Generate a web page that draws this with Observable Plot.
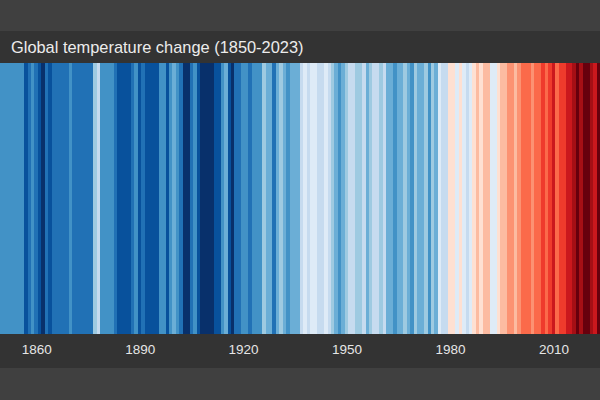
<!DOCTYPE html>
<html>
<head>
<meta charset="utf-8">
<script src="https://cdn.jsdelivr.net/npm/d3@7"></script>
<script src="https://cdn.jsdelivr.net/npm/@observablehq/plot@0.6"></script>
<style>
  html, body { margin: 0; padding: 0; background: #404040; }
  body { width: 600px; height: 400px; overflow: hidden; font-family: "Liberation Sans", Arial, Helvetica, sans-serif; }
  #top { height: 31px; }
  #title { height: 32px; line-height: 33px; background: #333333; color: #ececec; font-size: 16.4px; padding-left: 11px; white-space: nowrap; }
  #chart svg { display: block; }
</style>
</head>
<body>
<div id="top"></div>
<div id="title"></div>
<div id="chart"></div>
<script>
const titleText = "Global temperature change (1850-2023)";
const startYear = 1850;

// Annual global temperature anomaly (°C), estimated from stripe colours
const anom1850_1899 = [
  -0.31, -0.23, -0.23, -0.27, -0.29, -0.30, -0.31, -0.47, -0.39, -0.28,
  -0.39, -0.43, -0.54, -0.35, -0.47, -0.33, -0.34, -0.36, -0.35, -0.33,
  -0.31, -0.38, -0.33, -0.33, -0.40, -0.41, -0.41, -0.10, 0.00, -0.30,
  -0.31, -0.23, -0.29, -0.35, -0.49, -0.47, -0.43, -0.50, -0.38, -0.25,
  -0.51, -0.40, -0.51, -0.49, -0.48, -0.44, -0.28, -0.27, -0.45, -0.31
];
const anom1900_1949 = [
  -0.21, -0.30, -0.41, -0.54, -0.59, -0.41, -0.31, -0.51, -0.58, -0.57,
  -0.55, -0.57, -0.47, -0.47, -0.27, -0.19, -0.43, -0.54, -0.39, -0.34,
  -0.30, -0.23, -0.33, -0.31, -0.30, -0.23, -0.11, -0.21, -0.21, -0.37,
  -0.17, -0.11, -0.16, -0.30, -0.15, -0.18, -0.14, 0.00, 0.10, 0.02,
  0.13, 0.16, 0.03, 0.04, 0.16, 0.03, -0.06, -0.14, -0.25, -0.16
];
const anom1950_1999 = [
  -0.10, 0.00, 0.01, -0.05, -0.07, 0.01, -0.18, -0.04, 0.05, 0.04,
  -0.05, 0.04, -0.13, -0.14, -0.25, -0.15, -0.14, -0.06, -0.15, -0.23,
  -0.08, -0.16, -0.13, -0.04, -0.24, -0.07, -0.17, 0.11, 0.03, 0.06,
  0.19, 0.24, 0.09, 0.26, 0.09, 0.07, 0.12, 0.26, 0.31, 0.20,
  0.35, 0.32, 0.15, 0.17, 0.24, 0.37, 0.29, 0.45, 0.47, 0.37
];
const anom2000_2023 = [
  0.40, 0.53, 0.57, 0.57, 0.47, 0.57, 0.56, 0.65, 0.55, 0.65,
  0.72, 0.57, 0.62, 0.67, 0.72, 0.77, 0.87, 0.92, 0.83, 0.94,
  0.96, 0.83, 0.76, 1.10
];

const tickYears = [1860, 1890, 1920, 1950, 1980, 2010];

// Stripe palette and colour-class boundaries (°C)
const stripeColors = ["#08306b", "#08519c", "#2171b5", "#4292c6", "#6baed6", "#9ecae1", "#c6dbef", "#deebf7",
                      "#fee0d2", "#fcbba1", "#fc9272", "#fb6a4a", "#ef3b2c", "#cb181d", "#a50f15", "#67000d"];
const colorBreaks = [-0.52, -0.42, -0.32, -0.22, -0.12, -0.02, 0.08, 0.18, 0.28, 0.38, 0.48, 0.58, 0.68, 0.78, 0.88];

const anomalies = [...anom1850_1899, ...anom1900_1949, ...anom1950_1999, ...anom2000_2023];
const data = anomalies.map((v, i) => ({year: startYear + i, anomaly: v}));
const years = data.map(d => d.year);

document.getElementById("title").textContent = titleText;

const chart = Plot.plot({
  width: 600,
  height: 305,
  marginTop: 0,
  marginLeft: 0,
  marginRight: 0,
  marginBottom: 34,
  style: {background: "#333333", color: "#e6e6e6", fontFamily: "'Liberation Sans', Arial, Helvetica, sans-serif", fontSize: "13.5px"},
  x: {type: "band", domain: years, padding: 0, round: false, label: null},
  color: {type: "threshold", domain: colorBreaks, range: stripeColors},
  marks: [
    Plot.cell(data, {x: "year", fill: "anomaly", inset: 0, shapeRendering: "crispEdges"}),
    Plot.axisX({ticks: tickYears, tickFormat: d => String(d), tickSize: 0, tickPadding: 10, label: null, fill: "#e6e6e6", fontSize: 13.5})
  ]
});
document.getElementById("chart").appendChild(chart);
</script>
</body>
</html>
